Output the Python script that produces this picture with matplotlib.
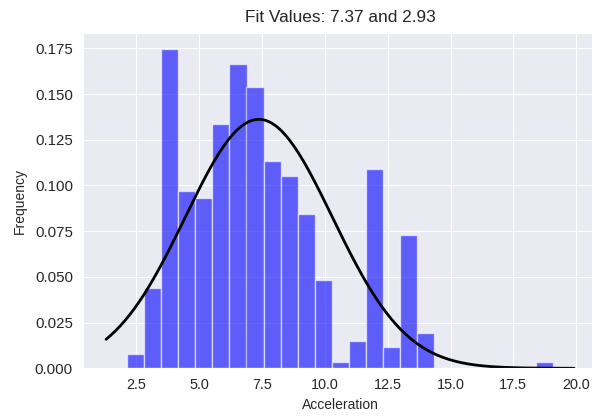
import numpy as np
import matplotlib
matplotlib.use("Agg")
import matplotlib.pyplot as plt
import seaborn as sns

# Histogramm-Daten (Dichte je Klasse)
BIN_LOW = 2.14
BIN_HIGH = 19.07
N_BINS = 25
DENSITY = [0.0079, 0.0440, 0.1745, 0.0970, 0.0929, 0.1337, 0.1666, 0.1538,
           0.1132, 0.1050, 0.0846, 0.0481, 0.0033, 0.0152, 0.1090, 0.0119,
           0.0727, 0.0192, 0.0, 0.0, 0.0, 0.0, 0.0, 0.0, 0.0033]

# Fit-Parameter der Normalverteilung
MU = 7.37
STD = 2.93


def main():
    sns.set_style("darkgrid")
    plt.rcParams['font.family'] = ['Liberation Sans', 'DejaVu Sans']

    fig = plt.figure(figsize=(5.92, 4.16), dpi=100)
    ax = fig.add_axes([82.7 / 592, (416 - 368.3) / 416, 514.8 / 592, 335 / 416])

    edges = np.linspace(BIN_LOW, BIN_HIGH, N_BINS + 1)
    centers = (edges[:-1] + edges[1:]) / 2
    ax.hist(centers, bins=edges, weights=DENSITY, color='b', alpha=0.6,
            edgecolor='white', linewidth=1)

    # Normalverteilung über den aktuellen x-Bereich
    xmin, xmax = ax.get_xlim()
    x = np.linspace(xmin, xmax, 200)
    p = np.exp(-0.5 * ((x - MU) / STD) ** 2) / (STD * np.sqrt(2 * np.pi))
    ax.plot(x, p, 'k', linewidth=2)

    ax.set_title(f"Fit Values: {MU:.2f} and {STD:.2f}", fontsize=12.4, pad=8)
    ax.set_xlabel("Acceleration", fontsize=10)
    ax.set_ylabel("Frequency", fontsize=10, labelpad=6)
    ax.tick_params(axis='y', labelsize=10.8)
    ax.tick_params(axis='x', labelsize=10.4)
    ax.set_yticks([0.0, 0.025, 0.05, 0.075, 0.1, 0.125, 0.15, 0.175])
    ax.set_yticklabels([f"{v:.3f}" for v in ax.get_yticks()])

    fig.savefig("out.png", dpi=100)
    plt.close(fig)


if __name__ == "__main__":
    main()
